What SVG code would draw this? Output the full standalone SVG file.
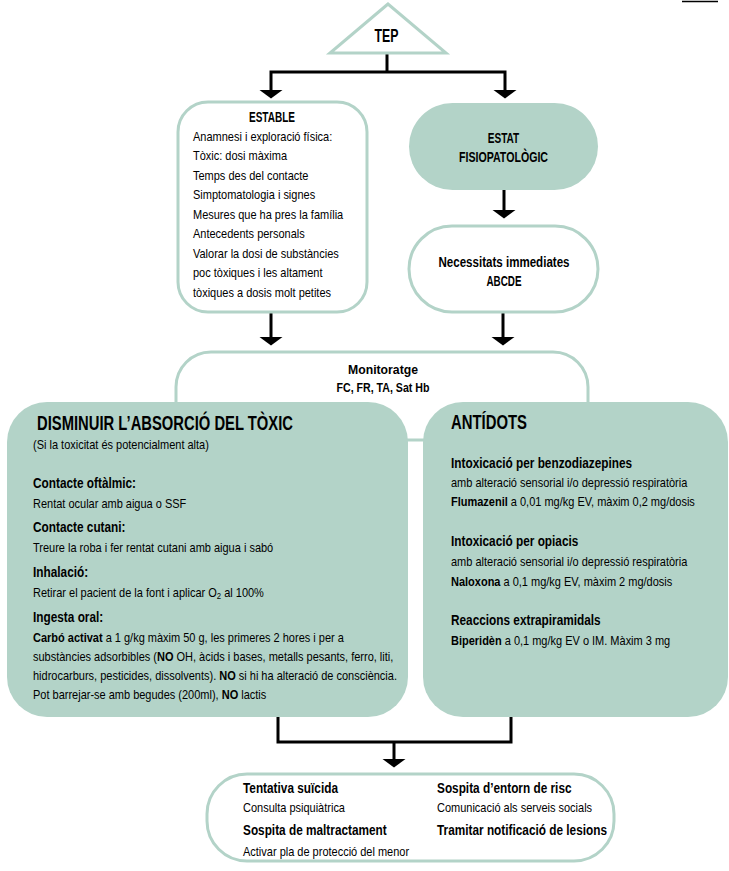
<svg xmlns="http://www.w3.org/2000/svg" width="729" height="871" viewBox="0 0 729 871">
  <defs>
    <style>
      .fill { fill: #b3d3c8; }
      .outline { fill: #ffffff; stroke: #b3d3c8; stroke-width: 3; }
      .wire { fill: none; stroke: #000; stroke-width: 3; stroke-linejoin: miter; }
      .arrow { marker-end: url(#head); }
      text { font-family: "Liberation Sans", Arial, "DejaVu Sans", sans-serif; fill: #000; }
      .r { font-size: 13.5px; }
      .h { font-size: 14.5px; font-weight: bold; }
      .b { font-weight: bold; }
      .mid { text-anchor: middle; }
      .big { font-size: 21px; font-weight: bold; }
    </style>
    <marker id="head" markerUnits="userSpaceOnUse" viewBox="0 -12 9 24" refX="0" refY="0" markerWidth="9" markerHeight="24" orient="auto">
      <path d="M0,-11.5 L8.5,0 L0,11.5 z" fill="#000"/>
    </marker>
  </defs>

  <rect width="729" height="871" fill="#ffffff"/>
  <!-- short rule in the top right corner -->
  <line x1="682" y1="1.5" x2="718" y2="1.5" stroke="#000" stroke-width="1.5"/>

  <!-- connectors -->
  <g id="connectors">
    <path class="wire" d="M387,54 V72"/>
    <path class="wire arrow" d="M387,72 H271 V90"/>
    <path class="wire arrow" d="M387,72 H505 V90"/>
    <path class="wire arrow" d="M504,190 V210"/>
    <path class="wire arrow" d="M271,313 V337"/>
    <path class="wire arrow" d="M503,313 V337"/>
    <path class="wire" d="M278,716 V742 H511 V716"/>
    <path class="wire arrow" d="M394,742 V759"/>
  </g>

  <!-- TEP -->
  <g id="tep">
    <polygon class="outline" points="388,4 330,53 446,53"/>
    <text class="b mid" x="386.5" y="42" font-size="18" textLength="24" lengthAdjust="spacingAndGlyphs">TEP</text>
  </g>

  <!-- ESTABLE -->
  <g id="estable">
    <rect class="outline" x="178" y="102" width="189" height="210" rx="30"/>
    <text class="h mid" x="272" y="122" textLength="46" lengthAdjust="spacingAndGlyphs">ESTABLE</text>
    <g transform="translate(193,0) scale(0.815,1)">
      <text class="r" x="0" y="141">Anamnesi i exploració física:</text>
      <text class="r" x="0" y="160.5">Tòxic: dosi màxima</text>
      <text class="r" x="0" y="180">Temps des del contacte</text>
      <text class="r" x="0" y="199.5">Simptomatologia i signes</text>
      <text class="r" x="0" y="219">Mesures que ha pres la família</text>
      <text class="r" x="0" y="238.5">Antecedents personals</text>
      <text class="r" x="0" y="258">Valorar la dosi de substàncies</text>
      <text class="r" x="0" y="277.5">poc tòxiques i les altament</text>
      <text class="r" x="0" y="297">tòxiques a dosis molt petites</text>
    </g>
  </g>

  <!-- ESTAT FISIOPATOLÒGIC -->
  <g id="estat">
    <rect class="fill" x="409" y="103" width="189" height="87" rx="43.5"/>
    <text class="b mid" x="503.5" y="143" font-size="15" textLength="31.5" lengthAdjust="spacingAndGlyphs">ESTAT</text>
    <text class="b mid" x="503.5" y="162" font-size="15" textLength="89" lengthAdjust="spacingAndGlyphs">FISIOPATOLÒGIC</text>
  </g>

  <!-- Necessitats immediates -->
  <g id="necessitats">
    <rect class="outline" x="409" y="226" width="189" height="86" rx="43"/>
    <text class="h mid" x="504" y="267" textLength="131" lengthAdjust="spacingAndGlyphs">Necessitats immediates</text>
    <text class="h mid" x="504" y="286" textLength="35" lengthAdjust="spacingAndGlyphs">ABCDE</text>
  </g>

  <!-- Monitoratge -->
  <g id="monitoratge">
    <rect class="outline" x="176" y="352" width="412" height="88" rx="35"/>
    <text class="b mid" x="383" y="374" font-size="13.5" textLength="70" lengthAdjust="spacingAndGlyphs">Monitoratge</text>
    <text class="b mid" x="383" y="392" font-size="13.5" textLength="93" lengthAdjust="spacingAndGlyphs">FC, FR, TA, Sat Hb</text>
  </g>

  <!-- Disminuir l'absorció -->
  <g id="disminuir">
    <rect class="fill" x="7" y="402" width="401" height="315" rx="40"/>
    <text class="big" x="37" y="430" textLength="256" lengthAdjust="spacingAndGlyphs">DISMINUIR L’ABSORCIÓ DEL TÒXIC</text>
    <g transform="translate(33,0) scale(0.815,1)">
      <text class="r" x="0" y="449">(Si la toxicitat és potencialment alta)</text>
      <text class="h" x="0" y="488">Contacte oftàlmic:</text>
      <text class="r" x="0" y="508">Rentat ocular amb aigua o SSF</text>
      <text class="h" x="0" y="532">Contacte cutani:</text>
      <text class="r" x="0" y="552">Treure la roba i fer rentat cutani amb aigua i sabó</text>
      <text class="h" x="0" y="577">Inhalació:</text>
      <text class="r" x="0" y="597">Retirar el pacient de la font i aplicar O<tspan font-size="9.5" dy="2">2</tspan><tspan dy="-2"> al 100%</tspan></text>
      <text class="h" x="0" y="622">Ingesta oral:</text>
      <text class="r" x="0" y="642"><tspan class="b">Carbó activat</tspan> a 1 g/kg màxim 50 g, les primeres 2 hores i per a</text>
      <text class="r" x="0" y="661">substàncies adsorbibles (<tspan class="b">NO</tspan> OH, àcids i bases, metalls pesants, ferro, liti,</text>
      <text class="r" x="0" y="680">hidrocarburs, pesticides, dissolvents). <tspan class="b">NO</tspan> si hi ha alteració de consciència.</text>
      <text class="r" x="0" y="699">Pot barrejar-se amb begudes (200ml), <tspan class="b">NO</tspan> lactis</text>
    </g>
  </g>

  <!-- Antídots -->
  <g id="antidots">
    <rect class="fill" x="423" y="402" width="305" height="315" rx="40"/>
    <text class="big" x="451" y="429" textLength="76" lengthAdjust="spacingAndGlyphs">ANTÍDOTS</text>
    <g transform="translate(451,0) scale(0.815,1)">
      <text class="h" x="0" y="468">Intoxicació per benzodiazepines</text>
      <text class="r" x="0" y="487">amb alteració sensorial i/o depressió respiratòria</text>
      <text class="r" x="0" y="506"><tspan class="b">Flumazenil</tspan> a 0,01 mg/kg EV, màxim 0,2 mg/dosis</text>
      <text class="h" x="0" y="546">Intoxicació per opiacis</text>
      <text class="r" x="0" y="566">amb alteració sensorial i/o depressió respiratòria</text>
      <text class="r" x="0" y="586"><tspan class="b">Naloxona</tspan> a 0,1 mg/kg EV, màxim 2 mg/dosis</text>
      <text class="h" x="0" y="625">Reaccions extrapiramidals</text>
      <text class="r" x="0" y="645"><tspan class="b">Biperidèn</tspan> a 0,1 mg/kg EV o IM. Màxim 3 mg</text>
    </g>
  </g>

  <!-- Follow-up actions -->
  <g id="seguiment">
    <rect class="outline" x="207" y="774" width="407" height="87" rx="40"/>
    <g transform="translate(243,0) scale(0.815,1)">
      <text class="h" x="0" y="793">Tentativa suïcida</text>
      <text class="r" x="0" y="812">Consulta psiquiàtrica</text>
      <text class="h" x="0" y="835">Sospita de maltractament</text>
      <text class="r" x="0" y="856">Activar pla de protecció del menor</text>
    </g>
    <g transform="translate(437,0) scale(0.815,1)">
      <text class="h" x="0" y="793">Sospita d’entorn de risc</text>
      <text class="r" x="0" y="812">Comunicació als serveis socials</text>
      <text class="h" x="0" y="835">Tramitar notificació de lesions</text>
    </g>
  </g>
</svg>
